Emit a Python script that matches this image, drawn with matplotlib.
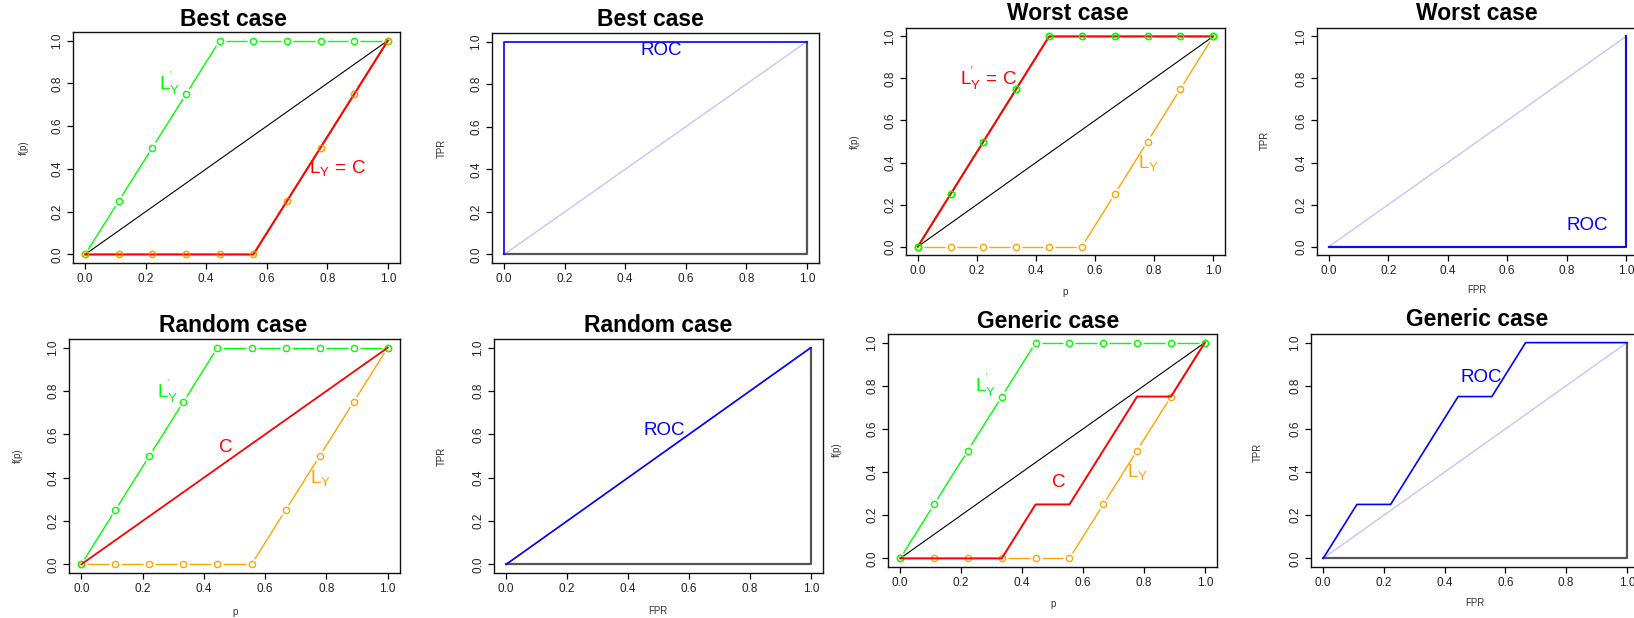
import numpy as np
import matplotlib
matplotlib.use("Agg")
import matplotlib.pyplot as plt
from matplotlib.ticker import FormatStrFormatter

plt.rcParams["font.family"] = ["Liberation Sans", "DejaVu Sans"]
plt.rcParams["mathtext.fontset"] = "custom"
plt.rcParams["mathtext.rm"] = "Liberation Sans"
plt.rcParams["mathtext.it"] = "Liberation Sans"
plt.rcParams["mathtext.bf"] = "Liberation Sans:bold"

# grid of thresholds p = 0, 1/9, ..., 1
p = np.linspace(0, 1, 10)

# upper / lower bounds (L'_Y and L_Y)
l_upper = [0, 0.25, 0.5, 0.75, 1, 1, 1, 1, 1, 1]
l_lower = [0, 0, 0, 0, 0, 0, 0.25, 0.5, 0.75, 1]

# generic-case C curve
c_gen_x = [0, 1/3, 4/9, 5/9, 7/9, 8/9, 1]
c_gen_y = [0, 0, 0.25, 0.25, 0.75, 0.75, 1]

# ROC curves (FPR, TPR)
roc_best_x, roc_best_y = [0, 0, 1], [0, 1, 1]
roc_worst_x, roc_worst_y = [0, 1, 1], [0, 0, 1]
roc_rand_x, roc_rand_y = [0, 1], [0, 1]
roc_gen_x = [0, 1/9, 2/9, 4/9, 5/9, 2/3, 1]
roc_gen_y = [0, 0.25, 0.25, 0.75, 0.75, 1, 1]

ticks = [0, 0.2, 0.4, 0.6, 0.8, 1.0]

GREEN, ORANGE, RED, BLUE = "#00ff00", "#ffa500", "#ff0000", "#0000ff"

W, H = 1634, 618
fig = plt.figure(figsize=(W / 100, H / 100), dpi=100)


def make_axes(x0, y0, x1, y1):
    ax = fig.add_axes([x0 / W, 1 - y1 / H, (x1 - x0) / W, (y1 - y0) / H])
    ax.set_xlim(-0.04, 1.04)
    ax.set_ylim(-0.04, 1.04)
    ax.set_xticks(ticks)
    ax.set_yticks(ticks)
    ax.xaxis.set_major_formatter(FormatStrFormatter("%.1f"))
    ax.yaxis.set_major_formatter(FormatStrFormatter("%.1f"))
    ax.tick_params(length=4, width=0.9, labelsize=8.5, labelcolor="#222222", pad=3)
    ax.tick_params(axis="y", labelrotation=90)
    for lbl in ax.get_yticklabels():
        lbl.set_va("center")
    for s in ax.spines.values():
        s.set_linewidth(1.0)
        s.set_color("#111111")
    return ax


def title(x, y, s):
    fig.text(x / W, 1 - y / H, s, ha="center", va="center",
             fontsize=16.5, fontweight="bold")


def axlabel(x, y, s, rot=0):
    fig.text(x / W, 1 - y / H, s, ha="center", va="center", rotation=rot,
             fontsize=7, color="#333333")


def gapped(ax, x, y, color, gap=6.0, lw=1.0):
    # R type="b": segments stop short of each point marker
    pts = ax.transData.transform(np.column_stack([x, y]))
    inv = ax.transData.inverted()
    for a, b in zip(pts[:-1], pts[1:]):
        d = b - a
        n = np.hypot(*d)
        if n <= 2 * gap:
            continue
        u = d / n
        seg = inv.transform(np.array([a + u * gap, b - u * gap]))
        ax.plot(seg[:, 0], seg[:, 1], color=color, lw=lw, solid_capstyle="butt")
    ax.plot(x, y, "o", mfc="none", mec=color, ms=4.5, mew=1.0)


def lab(ax, x, y, s, color):
    ax.text(x, y, s, color=color, fontsize=13.5, ha="center", va="center")


LUP = r"$\mathrm{L}_{\mathrm{Y}}^{'}$"
LLO = r"$\mathrm{L}_{\mathrm{Y}}$"


def roc_panel(ax, fx, fy):
    ax.plot([0, 1], [0, 1], color="#c4c4ff", lw=1.0)
    ax.plot([1, 1, 0], [1, 0, 0], color="#555555", lw=1.6)
    ax.plot(fx, fy, color=BLUE, lw=1.2)


# --- Best case ---
ax = make_axes(73, 32, 400, 263)
ax.plot([0, 1], [0, 1], color="black", lw=0.8)
gapped(ax, p, l_lower, ORANGE)
gapped(ax, p, l_upper, GREEN)
ax.plot(p, l_lower, color=RED, lw=1.5)
ax.plot(p, l_lower, "o", mfc="none", mec=ORANGE, ms=4.5, mew=1.0, alpha=0.6)
lab(ax, 0.28, 0.80, LUP, GREEN)
lab(ax, 0.835, 0.405, r"$\mathrm{L}_{\mathrm{Y}}\,=\,\mathrm{C}$", RED)
title(233, 19, "Best case")
axlabel(24, 148, "f(p)", 90)

ax = make_axes(492, 33, 819, 263)
roc_panel(ax, roc_best_x, roc_best_y)
lab(ax, 0.52, 0.96, "ROC", BLUE)
title(650, 19, "Best case")
axlabel(442, 148, "TPR", 90)

# --- Worst case ---
ax = make_axes(906, 28, 1225, 255)
ax.plot([0, 1], [0, 1], color="black", lw=0.8)
gapped(ax, p, l_lower, ORANGE)
gapped(ax, p, l_upper, GREEN)
ax.plot(p, l_upper, color=RED, lw=1.5)
ax.plot(p, l_upper, "o", mfc="none", mec=GREEN, ms=4.5, mew=1.0)
lab(ax, 0.24, 0.80, r"$\mathrm{L}_{\mathrm{Y}}^{'}\,=\,\mathrm{C}$", RED)
lab(ax, 0.78, 0.40, LLO, ORANGE)
title(1068, 14, "Worst case")
axlabel(855, 142, "f(p)", 90)
axlabel(1065, 292, "p")

ax = make_axes(1317, 28, 1638, 255)
roc_panel(ax, roc_worst_x, roc_worst_y)
lab(ax, 0.87, 0.10, "ROC", BLUE)
title(1477, 14, "Worst case")
axlabel(1265, 140, "TPR", 90)
axlabel(1477, 290, "FPR")

# --- Random case ---
ax = make_axes(69, 339, 400, 573)
gapped(ax, p, l_lower, ORANGE)
gapped(ax, p, l_upper, GREEN)
ax.plot([0, 1], [0, 1], color=RED, lw=1.3)
lab(ax, 0.28, 0.80, LUP, GREEN)
lab(ax, 0.47, 0.54, "C", RED)
lab(ax, 0.78, 0.40, LLO, ORANGE)
title(233, 326, "Random case")
axlabel(18, 456, "f(p)", 90)
axlabel(235, 612, "p")

ax = make_axes(494, 339, 823, 573)
roc_panel(ax, roc_rand_x, roc_rand_y)
lab(ax, 0.52, 0.62, "ROC", BLUE)
title(658, 326, "Random case")
axlabel(442, 456, "TPR", 90)
axlabel(658, 611, "FPR")

# --- Generic case ---
ax = make_axes(888, 334, 1217, 567)
ax.plot([0, 1], [0, 1], color="black", lw=0.8)
gapped(ax, p, l_lower, ORANGE)
gapped(ax, p, l_upper, GREEN)
ax.plot(c_gen_x, c_gen_y, color=RED, lw=1.4)
lab(ax, 0.28, 0.80, LUP, GREEN)
lab(ax, 0.52, 0.35, "C", RED)
lab(ax, 0.78, 0.40, LLO, ORANGE)
title(1048, 321, "Generic case")
axlabel(837, 450, "f(p)", 90)
axlabel(1053, 604, "p")

ax = make_axes(1311, 334, 1639, 567)
roc_panel(ax, roc_gen_x, roc_gen_y)
lab(ax, 0.52, 0.84, "ROC", BLUE)
title(1477, 320, "Generic case")
axlabel(1258, 452, "TPR", 90)
axlabel(1475, 603, "FPR")

fig.savefig("out.png", dpi=100)
